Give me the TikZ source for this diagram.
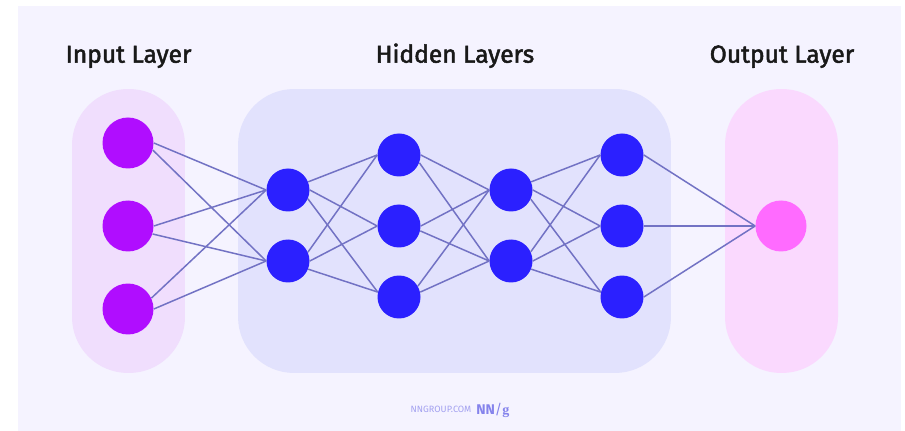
\documentclass[tikz,border=0pt]{standalone}
\usepackage{fontspec}
\setmainfont{Fira Sans}
\definecolor{pagebg}{HTML}{F5F3FF}
\definecolor{inputbg}{HTML}{F0DEFD}
\definecolor{hiddenbg}{HTML}{E2E2FD}
\definecolor{outputbg}{HTML}{FAD9FE}
\definecolor{inputfill}{HTML}{B00DFF}
\definecolor{hiddenfill}{HTML}{2B20FF}
\definecolor{outputfill}{HTML}{FF6BFF}
\definecolor{linkcol}{HTML}{7272C4}
\definecolor{logocol}{HTML}{A3A1F0}
\definecolor{logodark}{HTML}{8583EC}
\newfontfamily\titlefont[FakeBold=2]{Fira Sans}
\begin{document}
\begin{tikzpicture}[x=0.02cm,y=-0.02cm]
		\tikzstyle{panel} = [rectangle,rounded corners=1.12cm,minimum height=5.68cm,inner sep=0pt]
		\tikzstyle{neuron} = [circle,inner sep=0pt]
		\tikzstyle{big} = [neuron,minimum size=1.02cm]
		\tikzstyle{small} = [neuron,minimum size=0.86cm,fill=hiddenfill]
		\tikzstyle{title} = [anchor=base,font=\titlefont\fontsize{14}{16}\selectfont,text=black!90]
		\tikzstyle{link} = [draw=linkcol,line width=0.85pt]
		\useasboundingbox (0,0) rectangle (905,431);
		\fill[pagebg] (18,6) rectangle (901,431);
		% panels
		\node[panel,fill=inputbg,minimum width=2.26cm](inputpanel)at (128.5,231){};
		\node[panel,fill=hiddenbg,minimum width=8.66cm](hiddenpanel)at (454.5,231){};
		\node[panel,fill=outputbg,minimum width=2.26cm](outputpanel)at (781.5,231){};
		% titles
		\node[title](inputtitle)at (128.5,62.7){Input Layer};
		\node[title](hiddentitle)at (455,62.7){Hidden Layers};
		\node[title](outputtitle)at (782,62.7){Output Layer};
		% neurons
		\node[big,fill=inputfill](i1)at (128,143){};
		\node[big,fill=inputfill](i2)at (128,226){};
		\node[big,fill=inputfill](i3)at (128,309){};
		\node[small](a1)at (288,190){};
		\node[small](a2)at (288,261){};
		\node[small](b1)at (399,155){};
		\node[small](b2)at (399,226){};
		\node[small](b3)at (399,297){};
		\node[small](c1)at (511,190){};
		\node[small](c2)at (511,261){};
		\node[small](d1)at (622,155){};
		\node[small](d2)at (622,226){};
		\node[small](d3)at (622,297){};
		\node[big,fill=outputfill](o)at (781,226){};
		\path[link] (i1.east) edge (a1.west)
		(i1.-16) edge (a2.west)
		(i2.east) edge (a1.west)
		(i2.-18) edge (a2.west)
		(i3.25) edge (a1.west)
		(i3.east) edge (a2.west);
		\path[link] (a1.22) edge (b1.west)
		(a1.east) edge (b2.west)
		(a1.-24) edge (b3.167)
		(a2.24) edge (b1.west)
		(a2.east) edge (b2.west)
		(a2.-22) edge (b3.167);
		\path[link] (b1.east) edge (c1.west)
		(b1.-21) edge (c2.west)
		(b2.east) edge (c1.west)
		(b2.-13) edge (c2.west)
		(b3.30) edge (c1.west)
		(b3.13) edge (c2.west);
		\path[link] (c1.22) edge (d1.west)
		(c1.east) edge (d2.west)
		(c1.-25) edge (d3.167)
		(c2.25) edge (d1.west)
		(c2.east) edge (d2.west)
		(c2.-22) edge (d3.167);
		\path[link] (d1.east) edge (o.west)
		(d2.east) edge (o.west)
		(d3.east) edge (o.west);
		% logo
		\node[text=logocol,font=\fontsize{5.2}{6}\selectfont,inner sep=0pt,anchor=base](site)at (441,412.7){NNGROUP.COM};
		\node[text=logodark,font=\fontsize{8}{10}\selectfont\bfseries,inner sep=0pt,anchor=base west](logo)at (476,415){NN{\mdseries/}{\fontspec{Liberation Serif}g}};
		\end{tikzpicture}
\end{document}
